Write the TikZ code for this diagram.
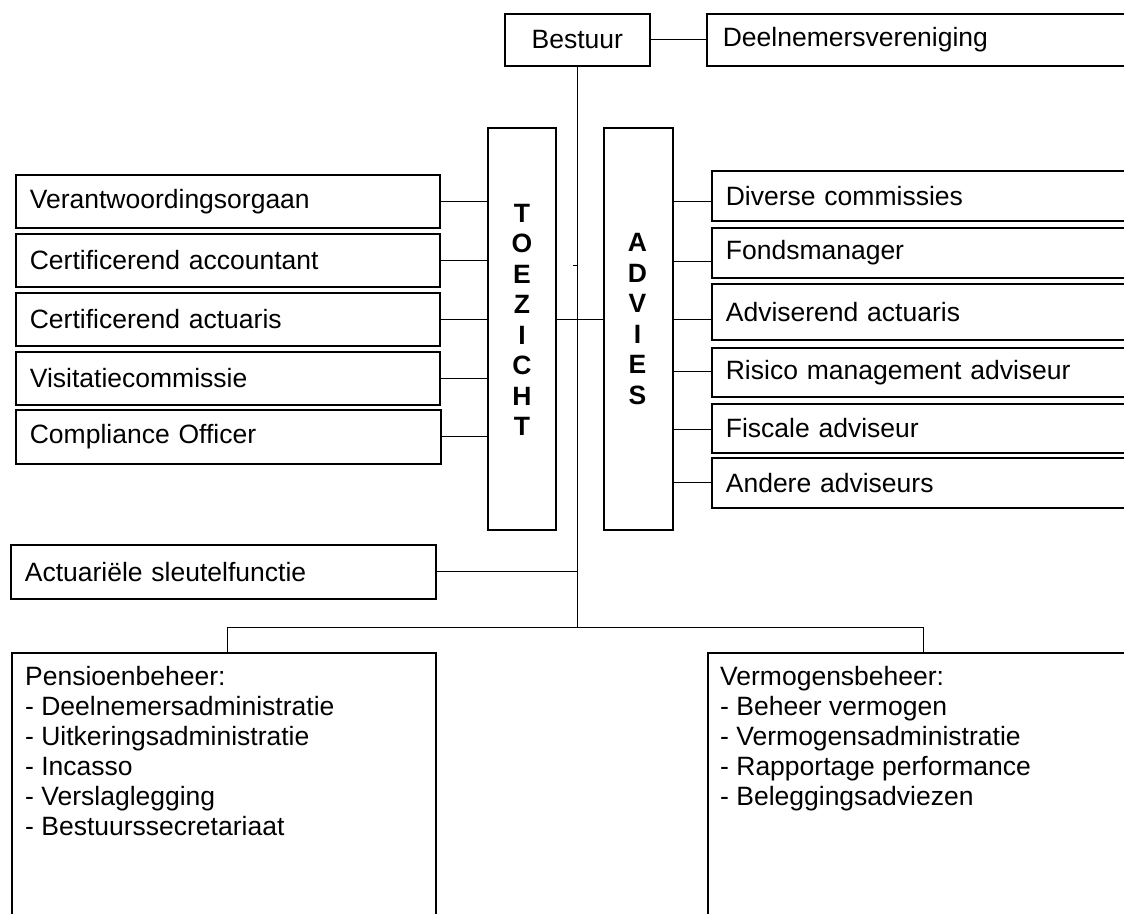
\documentclass[tikz,border=0pt]{standalone}
\usepackage{fontspec}
\setmainfont{Liberation Sans}
\usetikzlibrary{calc}
\begin{document}
\begin{tikzpicture}[x=1pt,y=-1pt,
  every node/.style={font=\fontsize{26.5pt}{30pt}\selectfont},
  box/.style={draw, line width=1.7pt, inner ysep=0pt, anchor=north west, align=left},
  conn/.style={line width=1pt},
  vtext/.style={font=\fontsize{26.5pt}{30.5pt}\selectfont\bfseries, align=center, inner sep=0pt}]
\useasboundingbox (0,0) rectangle (1124,913);
% top
\node[box, align=center, inner xsep=0pt, minimum width=145pt, minimum height=52pt] (bestuur) at (504,13) {Bestuur};
\node[box, inner xsep=16pt, text width=392pt, minimum height=52pt] (dv) at (706,13) {Deelnemersvereniging};
% toezicht / advies
\node[box, minimum width=68pt, minimum height=402pt] (toe) at (487,127) {};
\node[box, minimum width=69pt, minimum height=402pt] (adv) at (603,127) {};
\node[vtext] (toet) at (522,320) {T\\O\\E\\Z\\I\\C\\H\\T};
\node[vtext] (advt) at (637.5,319) {A\\D\\V\\I\\E\\S};
% left boxes
\node[box, inner xsep=14pt, text width=396pt, minimum height=53pt] (vo) at (15,174) {Verantwoordingsorgaan};
\node[box, inner xsep=14pt, text width=396pt, minimum height=53pt] (ca) at (15,233) {Certificerend accountant};
\node[box, inner xsep=14pt, text width=396pt, minimum height=53pt] (cact) at (15,292) {Certificerend actuaris};
\node[box, inner xsep=14pt, text width=396pt, minimum height=53pt] (vc) at (15,351) {Visitatiecommissie};
\node[box, inner xsep=14pt, text width=397pt, minimum height=54pt] (co) at (15,409) {Compliance Officer};
% right boxes
\node[box, inner xsep=14pt, text width=392pt, minimum height=50pt] (dc) at (711,170) {Diverse commissies};
\node[box, inner xsep=14pt, text width=392pt, minimum height=50pt] (fm) at (711,227) {Fondsmanager};
\node[box, inner xsep=14pt, text width=392pt, minimum height=56pt] (aa) at (711,283) {Adviserend actuaris};
\node[box, inner xsep=14pt, text width=392pt, minimum height=49pt] (rm) at (711,347) {Risico management adviseur};
\node[box, inner xsep=14pt, text width=392pt, minimum height=49pt] (fa) at (711,403) {Fiscale adviseur};
\node[box, inner xsep=14pt, text width=392pt, minimum height=50pt] (oa) at (711,457) {Andere adviseurs};
% actuariele
\node[box, inner xsep=14pt, text width=397pt, minimum height=54pt] (asf) at (10,544) {Actuariële sleutelfunctie};
% bottom boxes
\node[box, minimum width=424pt, minimum height=280pt] (pb) at (11,652) {};
\node[box, minimum width=424pt, minimum height=280pt] (vb) at (707,652) {};
\node[inner sep=0pt, anchor=north west, align=left] (pbt) at (25,666) {Pensioenbeheer:\\- Deelnemersadministratie\\- Uitkeringsadministratie\\- Incasso\\- Verslaglegging\\- Bestuurssecretariaat};
\node[inner sep=0pt, anchor=north west, align=left] (vbt) at (720,666) {Vermogensbeheer:\\- Beheer vermogen\\- Vermogensadministratie\\- Rapportage performance\\- Beleggingsadviezen};
% coordinates
\coordinate (split) at (577,627);
\coordinate (mid) at (577,319);
\coordinate (tick) at (573,265);
\coordinate (barL) at (227,627);
\coordinate (barR) at (923,627);
\coordinate (dcc) at ($(dc.north west)!0.6!(dc.south west)$);
\coordinate (fmc) at ($(fm.north west)!0.66!(fm.south west)$);
\coordinate (aac) at ($(aa.north west)!0.64!(aa.south west)$);
\coordinate (rmc) at ($(rm.north west)!0.48!(rm.south west)$);
\coordinate (fac) at ($(fa.north west)!0.53!(fa.south west)$);
\coordinate (oac) at ($(oa.north west)!0.5!(oa.south west)$);
% connectors
\draw[conn] (bestuur.east) -- (dv.west);
\draw[conn] (bestuur.south -| split) -- (split);
\draw[conn] (tick) -- (tick -| split);
\draw[conn] (toe.east |- mid) -- (adv.west |- mid);
\foreach \n in {vo,ca,cact,vc,co} \draw[conn] (\n.east) -- (\n.east -| toe.west);
\foreach \n in {dcc,fmc,aac,rmc,fac,oac} \draw[conn] (\n) -- (\n -| adv.east);
\draw[conn] (asf.east) -- (asf.east -| split);
\draw[conn] (barL) -- (barR);
\draw[conn] (barL) -- (barL |- pb.north);
\draw[conn] (barR) -- (barR |- vb.north);
\end{tikzpicture}
\end{document}
